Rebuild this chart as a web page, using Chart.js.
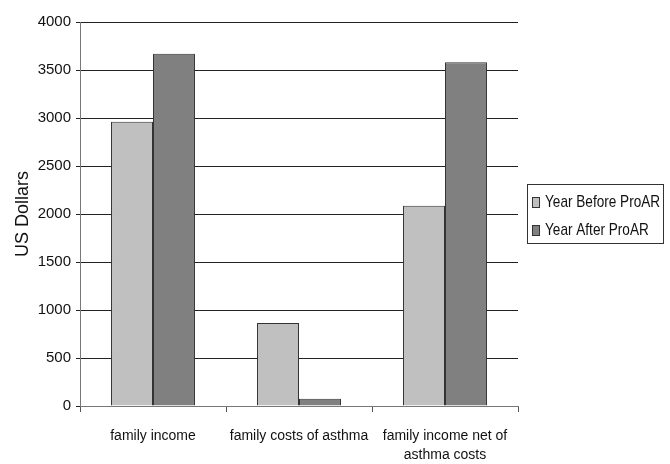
<!DOCTYPE html>
<html>
<head>
<meta charset="utf-8">
<script src="https://cdn.jsdelivr.net/npm/chart.js@4"></script>
<style>
  html, body { margin: 0; padding: 0; background: #fff; }
  #wrap { width: 670px; height: 464px; }
</style>
</head>
<body>
<div id="wrap"><canvas id="chart" width="670" height="464"></canvas></div>
<script>
const categories = ['family income', 'family costs of asthma', ['family income net of', 'asthma costs']];
const yearBefore = [2960, 865, 2085];
const yearAfter = [3670, 76, 3580];
const seriesNames = ['Year Before ProAR', 'Year After ProAR'];
const yTicks = [0, 500, 1000, 1500, 2000, 2500, 3000, 3500, 4000];

const FONT = "'Liberation Sans', Arial, sans-serif";

// legend with a border box, drawn by hand (narrow text like the original)
const boxedLegend = {
  id: 'boxedLegend',
  afterDraw(chart) {
    const ctx = chart.ctx;
    const x = 527, y = 184, w = 136, h = 59;
    ctx.save();
    ctx.fillStyle = '#fff';
    ctx.fillRect(x, y, w, h);
    ctx.strokeStyle = '#333';
    ctx.lineWidth = 1;
    ctx.strokeRect(x + 0.5, y + 0.5, w, h);
    chart.data.datasets.forEach((ds, i) => {
      const cy = y + 17 + i * 28;
      ctx.fillStyle = ds.backgroundColor;
      ctx.fillRect(x + 5, cy - 4, 7, 10);
      ctx.strokeStyle = '#333';
      ctx.strokeRect(x + 5.5, cy - 3.5, 7, 10);
      ctx.save();
      ctx.translate(x + 18, cy);
      ctx.scale(0.8, 1);
      ctx.font = '17px ' + FONT;
      ctx.textBaseline = 'middle';
      ctx.fillStyle = '#111';
      ctx.fillText(ds.label, 0, 1);
      ctx.restore();
    });
    ctx.restore();
  }
};

new Chart(document.getElementById('chart'), {
  type: 'bar',
  data: {
    labels: categories,
    datasets: [
      { label: seriesNames[0], data: yearBefore, backgroundColor: '#c0c0c0', borderColor: '#333', borderWidth: 1,
        barPercentage: 1, categoryPercentage: 0.575 },
      { label: seriesNames[1], data: yearAfter, backgroundColor: '#808080', borderColor: '#333', borderWidth: 1,
        barPercentage: 1, categoryPercentage: 0.575 }
    ]
  },
  options: {
    responsive: false,
    animation: false,
    layout: { padding: { top: 22, right: 152, left: 0, bottom: 0 } },
    plugins: {
      legend: { display: false },
      tooltip: { enabled: false }
    },
    scales: {
      x: {
        offset: true,
        grid: { display: true, drawOnChartArea: false, offset: true, tickLength: 6, color: '#555' },
        border: { color: '#777', width: 1 },
        ticks: { color: '#111', font: { family: FONT, size: 14, lineHeight: 1.35 }, padding: 15, maxRotation: 0, autoSkip: false },
        afterFit(scale) { scale.height = 58; }
      },
      y: {
        min: 0,
        max: 4000,
        afterBuildTicks(scale) { scale.ticks = yTicks.map(v => ({ value: v })); },
        grid: { color: '#222', tickLength: 4 },
        border: { color: '#777', width: 1 },
        ticks: { color: '#111', font: { family: FONT, size: 15 }, padding: 5, callback: v => String(v) },
        title: { display: true, text: 'US Dollars', color: '#111', font: { family: FONT, size: 18 }, padding: { top: 12, bottom: 0 } },
        afterFit(scale) { scale.width = 80; }
      }
    }
  },
  plugins: [boxedLegend]
});
</script>
</body>
</html>
